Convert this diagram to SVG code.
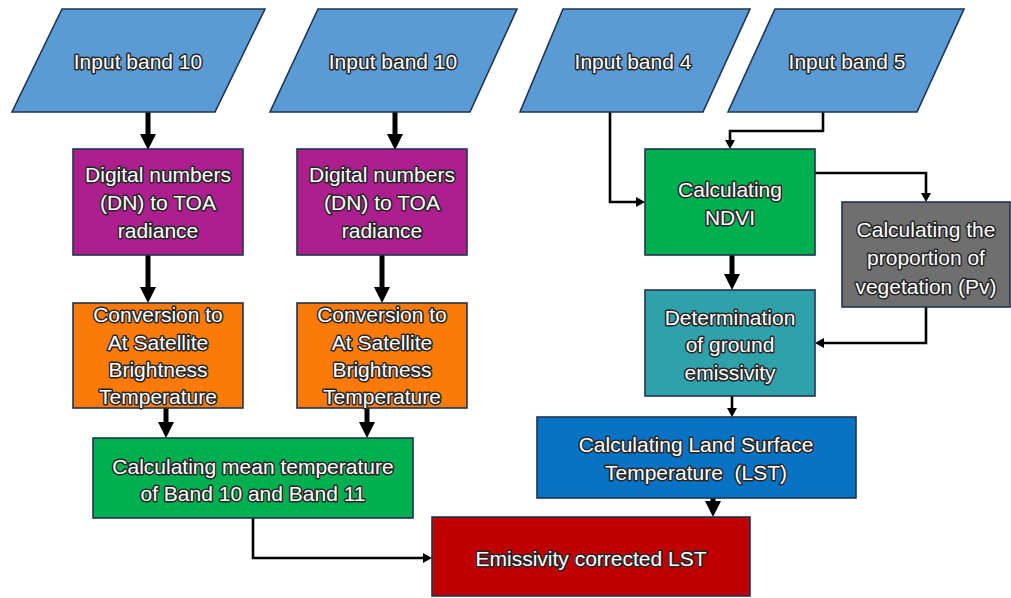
<svg xmlns="http://www.w3.org/2000/svg" width="1011" height="598" viewBox="0 0 1011 598">
<style>
.bg{fill:#ffffff}
.box{stroke:#1f3450;stroke-width:1.6}
.io{fill:#5b9bd5}
.purple{fill:#ad1f8f}
.orange{fill:#fb7a0a}
.green{fill:#00b050}
.teal{fill:#2fa1aa}
.gray{fill:#6f6f6f}
.blue{fill:#0872c4}
.red{fill:#c00000}
.t{font-family:"Liberation Sans",Arial,sans-serif;font-size:21px;fill:#ffffff;stroke:#262626;stroke-width:3;stroke-linejoin:round;paint-order:stroke;text-anchor:middle}
.thick{fill:none;stroke:#000;stroke-width:5;marker-end:url(#big)}
.thin{fill:none;stroke:#000;stroke-width:2.6;marker-end:url(#small)}
</style>
<defs>
<marker id="big" markerUnits="userSpaceOnUse" markerWidth="16" markerHeight="16" viewBox="0 0 16 16" refX="0" refY="8" orient="auto"><path d="M0,0 L16,8 L0,16 z" fill="#000"/></marker>
<marker id="small" markerUnits="userSpaceOnUse" markerWidth="9" markerHeight="10" viewBox="0 0 9 10" refX="0" refY="5" orient="auto"><path d="M0,0 L9,5 L0,10 z" fill="#000"/></marker>
</defs>
<rect class="bg" x="0" y="0" width="1011" height="598"/>

<g id="connectors">
<path class="thick" d="M148,112 V134"/>
<path class="thick" d="M395,112 V134"/>
<path class="thick" d="M148,255 V287"/>
<path class="thick" d="M382,255 V287"/>
<path class="thick" d="M166,408 V422"/>
<path class="thick" d="M367,408 V422"/>
<path class="thick" d="M732,255 V274"/>
<path class="thick" d="M713,498 V501"/>
<path class="thin" d="M610,112 V202 H636"/>
<path class="thin" d="M823,112 V131 H730 V140"/>
<path class="thin" d="M815,173 H926 V193"/>
<path class="thin" d="M926,307 V343 H824"/>
<path class="thin" d="M732,396 V408"/>
<path class="thin" d="M253,518 V558 H423"/>
</g>

<g id="input1">
<polygon class="box io" points="62,9 265,9 215,112 12,112"/>
<text class="t" x="138" y="69">Input band 10</text>
</g>
<g id="input2">
<polygon class="box io" points="318,9 517,9 470,112 270,112"/>
<text class="t" x="393" y="69">Input band 10</text>
</g>
<g id="input3">
<polygon class="box io" points="563,9 750,9 703,112 520,112"/>
<text class="t" x="633" y="69">Input band 4</text>
</g>
<g id="input4">
<polygon class="box io" points="775,9 964,9 917,112 728,112"/>
<text class="t" x="847" y="69">Input band 5</text>
</g>

<g id="dn1">
<rect class="box purple" x="73" y="149" width="170" height="106"/>
<text class="t" x="158" y="182">Digital numbers</text>
<text class="t" x="158" y="210">(DN) to TOA</text>
<text class="t" x="158" y="238">radiance</text>
</g>
<g id="dn2">
<rect class="box purple" x="297" y="149" width="170" height="106"/>
<text class="t" x="382" y="182">Digital numbers</text>
<text class="t" x="382" y="210">(DN) to TOA</text>
<text class="t" x="382" y="238">radiance</text>
</g>

<g id="bt1">
<rect class="box orange" x="73" y="303" width="170" height="105"/>
<text class="t" x="158" y="322">Conversion to</text>
<text class="t" x="158" y="350">At Satellite</text>
<text class="t" x="158" y="377">Brightness</text>
<text class="t" x="158" y="404">Temperature</text>
</g>
<g id="bt2">
<rect class="box orange" x="297" y="303" width="170" height="105"/>
<text class="t" x="382" y="322">Conversion to</text>
<text class="t" x="382" y="350">At Satellite</text>
<text class="t" x="382" y="377">Brightness</text>
<text class="t" x="382" y="404">Temperature</text>
</g>

<g id="mean">
<rect class="box green" x="93" y="438" width="320" height="80"/>
<text class="t" x="253" y="474">Calculating mean temperature</text>
<text class="t" x="253" y="501">of Band 10 and Band 11</text>
</g>

<g id="ndvi">
<rect class="box green" x="645" y="149" width="170" height="106"/>
<text class="t" x="730" y="197">Calculating</text>
<text class="t" x="730" y="225">NDVI</text>
</g>

<g id="pv">
<rect class="box gray" x="842" y="202" width="168" height="105"/>
<text class="t" x="926" y="237">Calculating the</text>
<text class="t" x="926" y="265">proportion of</text>
<text class="t" x="926" y="294">vegetation (Pv)</text>
</g>

<g id="emis">
<rect class="box teal" x="645" y="290" width="170" height="106"/>
<text class="t" x="730" y="325">Determination</text>
<text class="t" x="730" y="352">of ground</text>
<text class="t" x="730" y="380">emissivity</text>
</g>

<g id="lst">
<rect class="box blue" x="537" y="417" width="319" height="81"/>
<text class="t" x="696" y="452">Calculating Land Surface</text>
<text class="t" x="696" y="480" xml:space="preserve">Temperature  (LST)</text>
</g>

<g id="final">
<rect class="box red" x="432" y="517" width="318" height="79"/>
<text class="t" x="591" y="566">Emissivity corrected LST</text>
</g>
</svg>
